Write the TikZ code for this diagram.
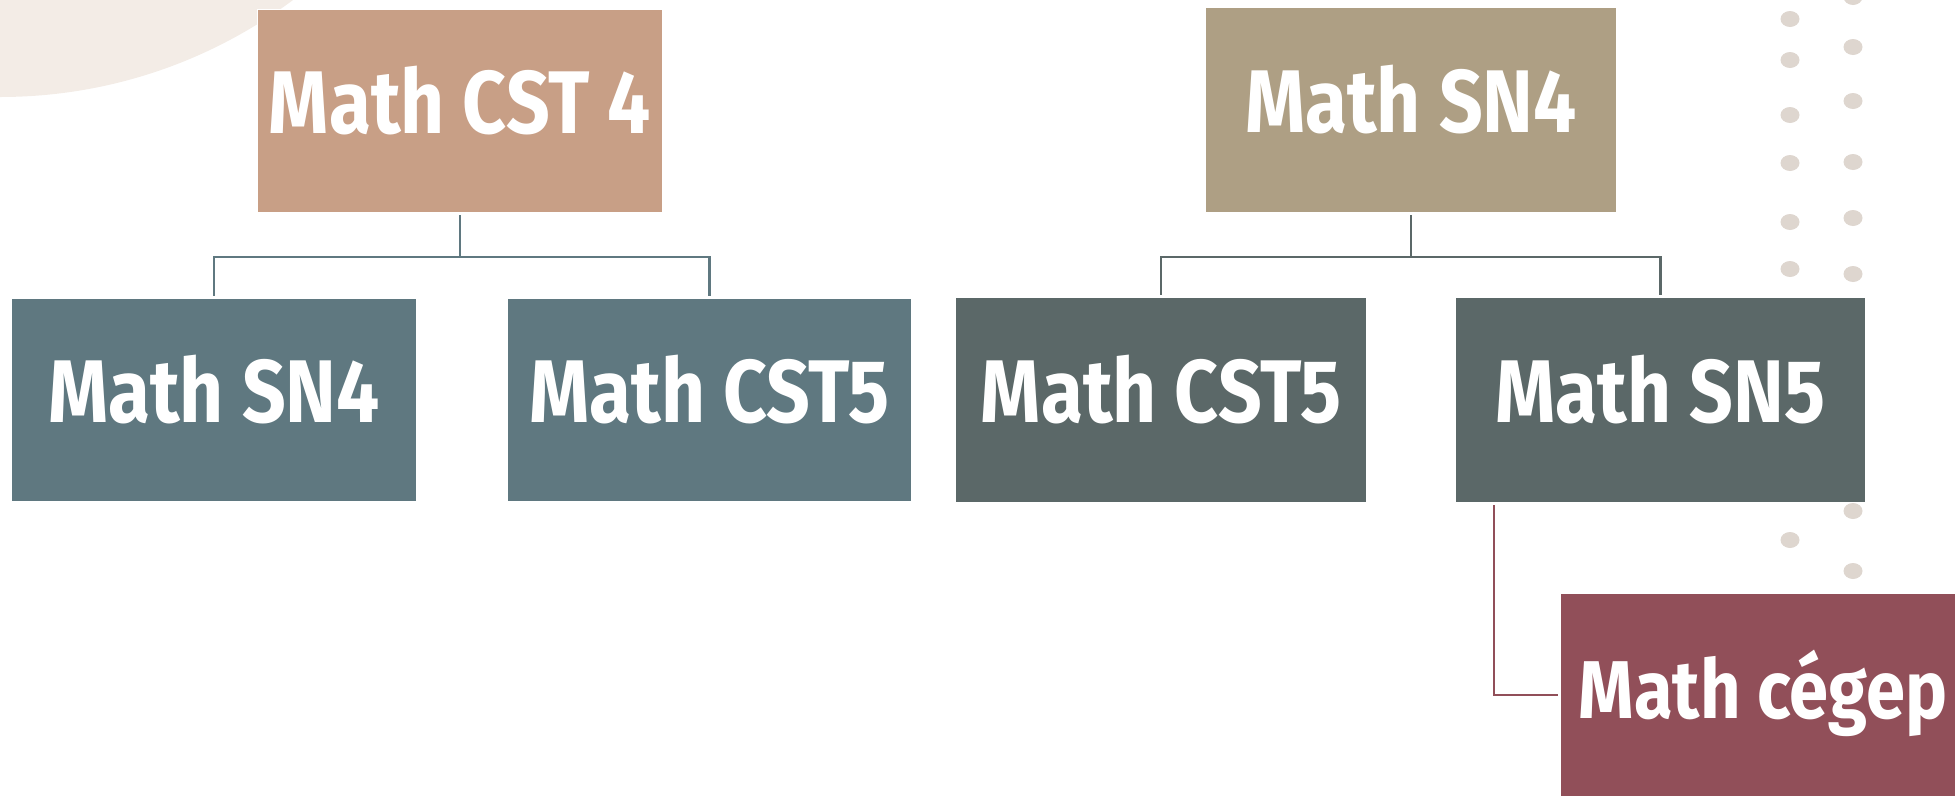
\documentclass[tikz,border=0pt]{standalone}
\usepackage{fontspec}
\usepackage{xcolor}
\usepackage{tikz}
\usetikzlibrary{positioning}
\newfontfamily\brushfont{Fira Sans}[FakeStretch=0.86]
\definecolor{boxcst}{HTML}{C89F86}
\definecolor{boxsn}{HTML}{AE9F84}
\definecolor{boxblue}{HTML}{5F7880}
\definecolor{boxgrey}{HTML}{5B6868}
\definecolor{boxwine}{HTML}{914F59}
\definecolor{bgsand}{HTML}{F3ECE6}
\definecolor{dotsand}{HTML}{DED6CF}

\begin{document}
\begin{tikzpicture}[x=1pt,y=-1pt,
  course/.style={minimum width=405pt, minimum height=203pt, inner sep=0pt, draw=white, line width=1.5pt,
    text=white, text depth=22pt, font=\brushfont\bfseries\fontsize{89}{89}\selectfont},
  wide/.style={minimum width=411pt, minimum height=205pt},
  link/.style={line width=2.2pt, shorten <=2pt, shorten >=2pt}]
  \clip (0,0) rectangle (1955,796);
  \fill[bgsand] (0,-394) circle (491);
  \foreach \y in {19,60,115,163,222,269,540} \fill[dotsand] (1790,\y) ellipse (9.5 and 8);
  \foreach \y in {-3,47,101,162,218,274,511,571} \fill[dotsand] (1853,\y) ellipse (9.5 and 8);

  \node[course, fill=boxcst]                                   (cst4)  at (460,111) {Math CST 4};
  \node[course, wide, fill=boxsn]                              (sn4)   at (1411,110) {Math SN4};
  \node[course, fill=boxblue]                                  (sn4a)  at (214,400) {Math SN4};
  \node[course, fill=boxblue, node distance=89pt, right=of sn4a]        (cst5a) {Math CST5};
  \node[course, wide, fill=boxgrey, node distance=42pt, right=of cst5a] (cst5b) {Math CST5};
  \node[course, wide, fill=boxgrey, node distance=87pt, right=of cst5b] (sn5)   {Math SN5};
  \node[course, fill=boxwine, font=\brushfont\bfseries\fontsize{82}{82}\selectfont] (cegep) at (1763,695) {Math cégep};

  \draw[link, boxblue] (cst4.south) -- ++(0,44) -| (sn4a.north);
  \draw[link, boxblue] (cst4.south) -- ++(0,44) -| (cst5a.north);
  \draw[link, boxgrey] (sn4.south) -- ++(0,44) -| (cst5b.north);
  \draw[link, boxgrey] (sn4.south) -- ++(0,44) -| (sn5.north);
  \draw[link, boxwine] ([xshift=40pt]sn5.south west) |- (cegep.west);
\end{tikzpicture}
\end{document}
